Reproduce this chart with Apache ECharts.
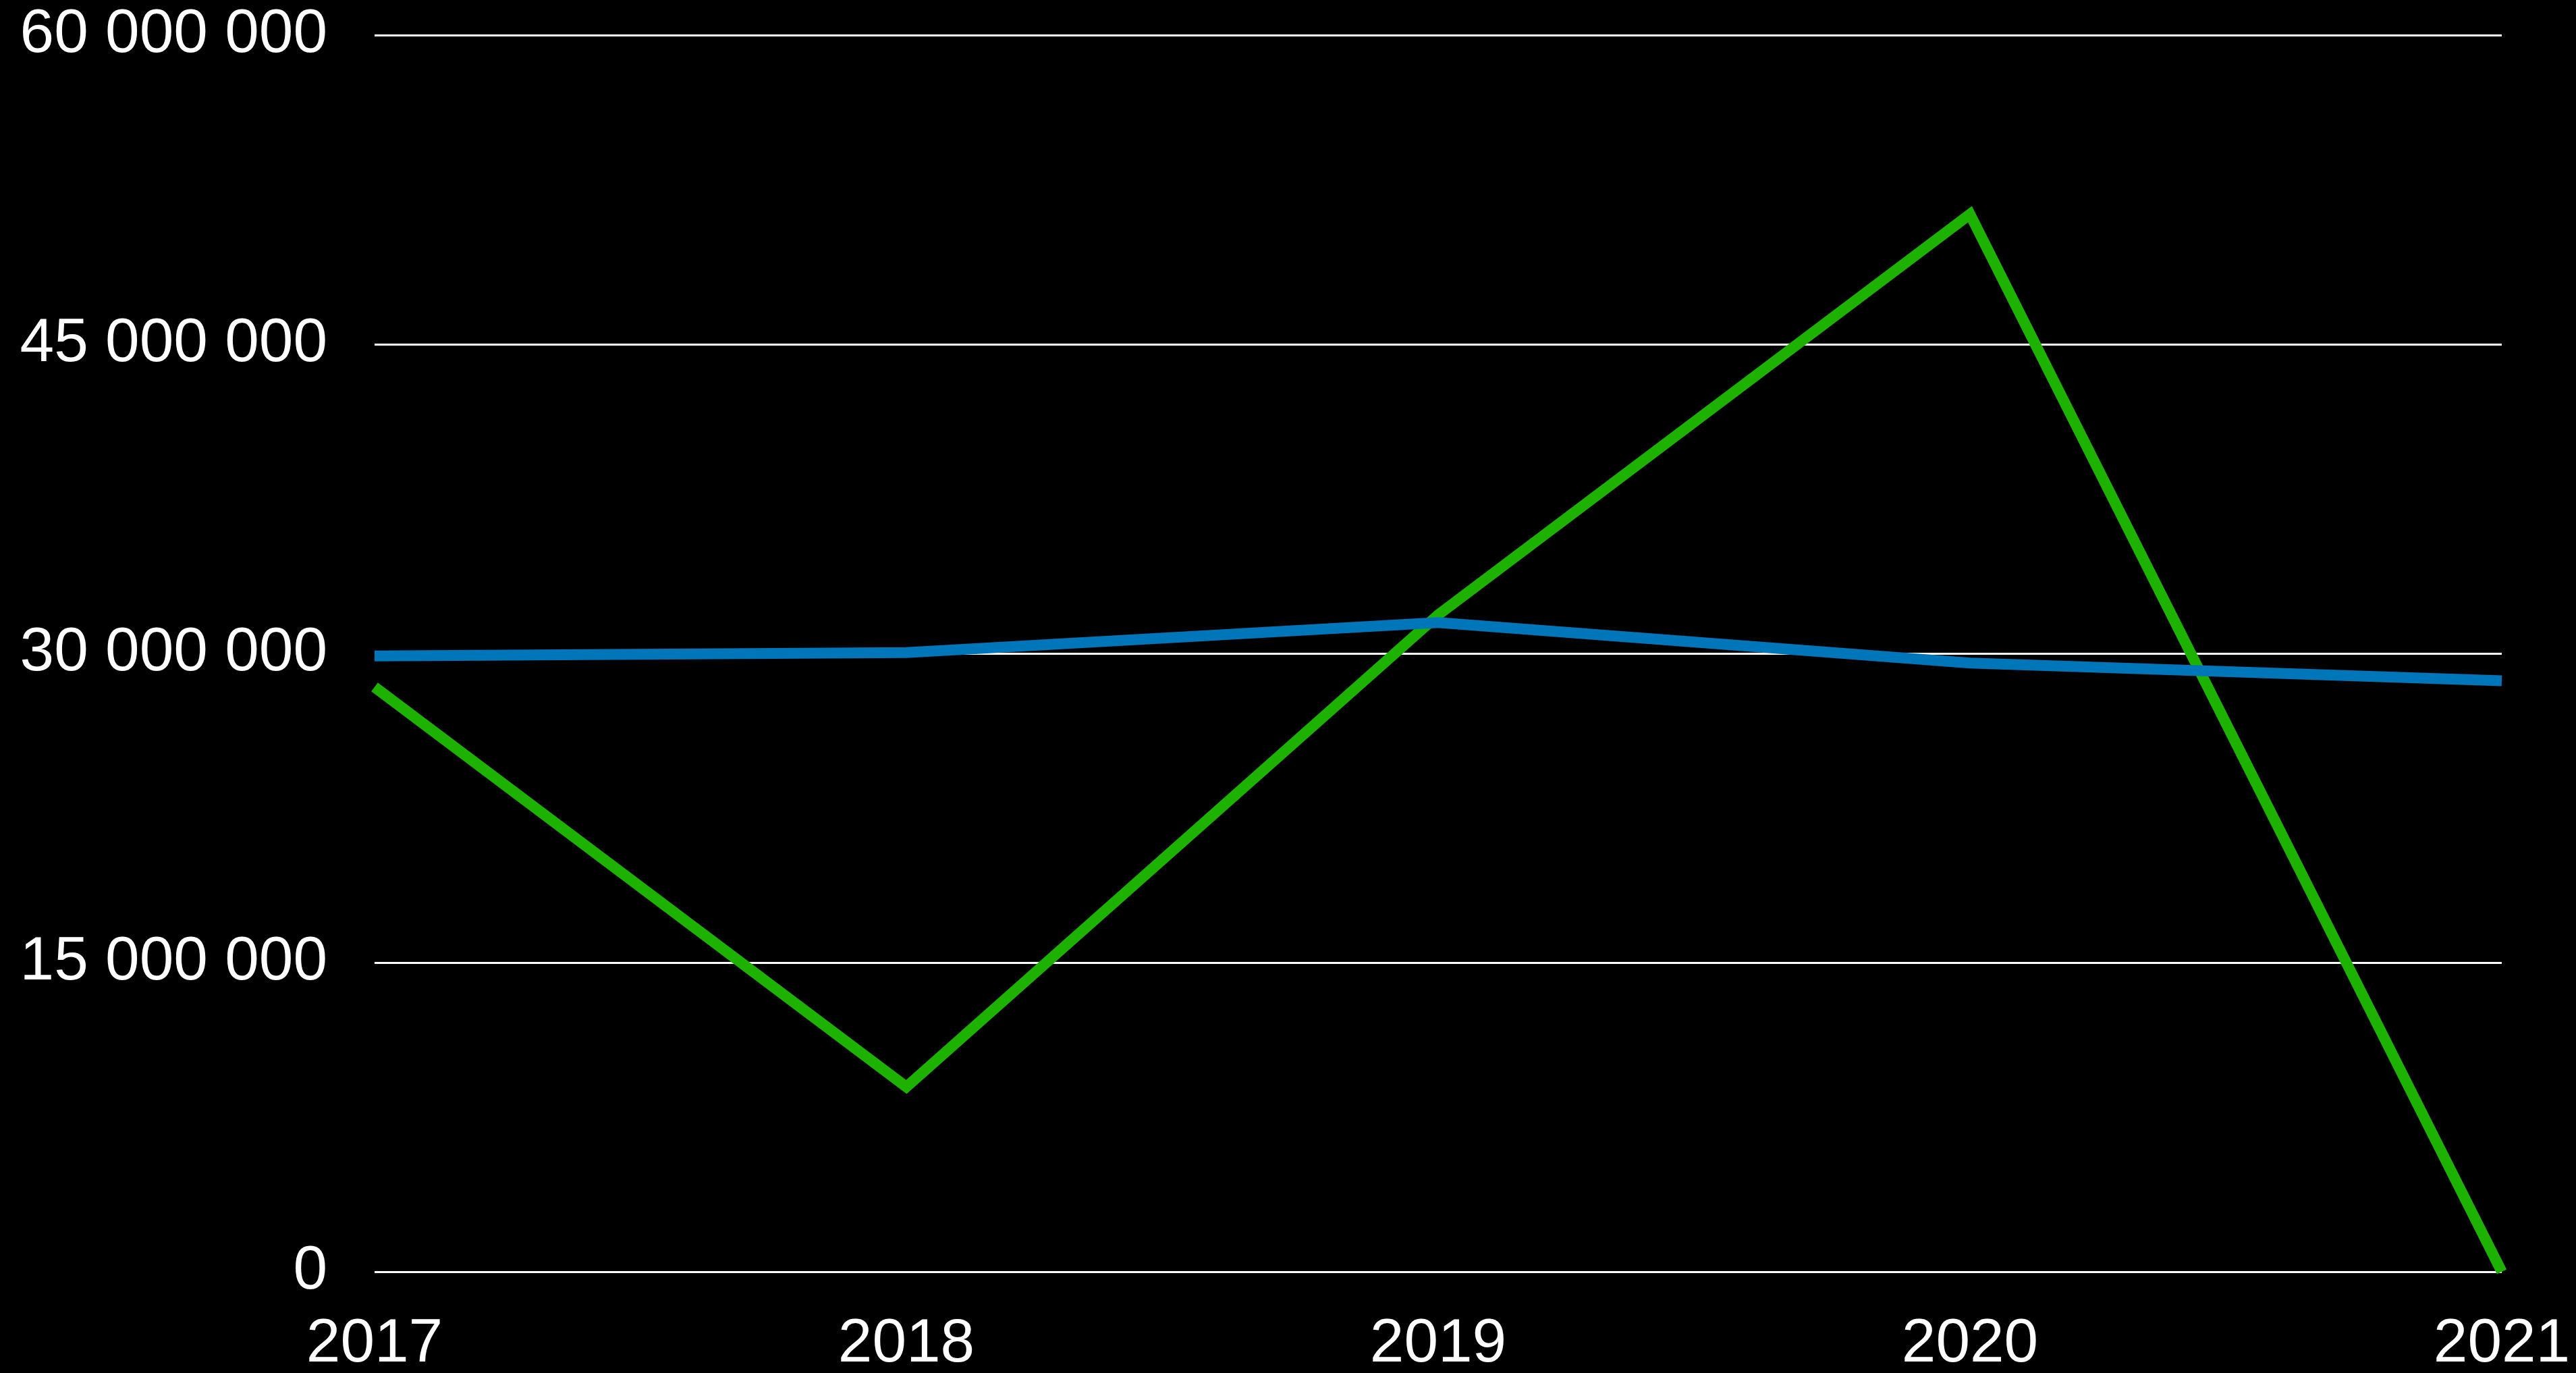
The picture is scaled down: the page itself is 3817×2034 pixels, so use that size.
<!DOCTYPE html>
<html>
<head>
<meta charset="utf-8">
<script src="https://cdn.jsdelivr.net/npm/echarts@6/dist/echarts.min.js"></script>
<style>
  html, body { margin: 0; padding: 0; background: #000; }
  #chart { width: 3817px; height: 2034px; }
</style>
</head>
<body>
<div id="chart"></div>
<script>
// categories and values
const years = ['2017', '2018', '2019', '2020', '2021']
const blueValues = [29880000, 30040000, 31500000, 29530000, 28670000]
const greenValues = [28370000, 8970000, 31870000, 51310000, 0]

// y axis: 0 .. 60 000 000 step 15 000 000
const yMin = 0
const yMax = 60000000
const yStep = 15000000

const fmt = v => String(v).replace(/\B(?=(\d{3})+(?!\d))/g, ' ')

const chart = echarts.init(document.getElementById('chart'))
chart.setOption({
  backgroundColor: '#000000',
  animation: false,
  grid: {
    left: 555, right: 110, top: 52, bottom: 150,
    containLabel: false,
    outerBoundsMode: 'none'
  },
  xAxis: {
    type: 'category',
    data: years,
    boundaryGap: false,
    axisLine: { show: false },
    axisTick: { show: false },
    axisLabel: {
      color: '#ffffff',
      fontSize: 91,
      fontFamily: 'Liberation Sans, Arial, sans-serif',
      margin: 62,
      interval: 0
    },
    splitLine: { show: false }
  },
  yAxis: {
    type: 'value',
    min: yMin,
    max: yMax,
    interval: yStep,
    axisLine: { show: false },
    axisTick: { show: false },
    axisLabel: {
      color: '#ffffff',
      fontSize: 91,
      fontFamily: 'Liberation Sans, Arial, sans-serif',
      margin: 70,
      formatter: fmt
    },
    splitLine: { show: true, lineStyle: { color: '#ffffff', width: 3 } }
  },
  series: [
    {
      name: 'green',
      type: 'line',
      data: greenValues,
      showSymbol: false,
      lineStyle: { color: '#1DB100', width: 16, join: 'miter', cap: 'butt' }
    },
    {
      name: 'blue',
      type: 'line',
      data: blueValues,
      showSymbol: false,
      lineStyle: { color: '#0076BA', width: 16, join: 'miter', cap: 'butt' }
    }
  ]
})
</script>
</body>
</html>
